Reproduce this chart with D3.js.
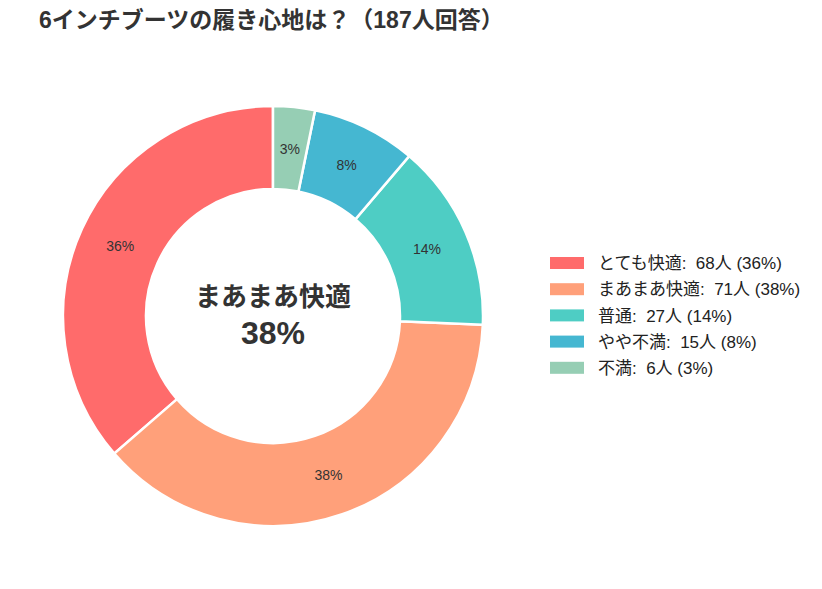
<!DOCTYPE html>
<html>
<head>
<meta charset="utf-8">
<script src="https://cdn.jsdelivr.net/npm/d3@7"></script>
<style>
  body { margin: 0; background: #fff; }
  svg text { font-family: "Liberation Sans", "Noto Sans CJK JP", sans-serif; }
</style>
</head>
<body>
<div class="holder"></div>
<script>
// data
var categories = ["とても快適", "まあまあ快適", "普通", "やや不満", "不満"];
var counts = [68, 71, 27, 15, 6];
var colors = ["#FF6B6B", "#FFA07A", "#4ECDC4", "#45B7D1", "#96CEB4"];
var titleText = "6インチブーツの履き心地は？（187人回答）";
var centerLabel = "まあまあ快適";
var centerPct = "38%";

var width = 822, height = 589;
var cx = 273, cy = 316;
var outerR = 210, innerR = 127;

var total = d3.sum(counts);
var data = categories.map(function(c, i) { return { name: c, value: counts[i], color: colors[i] }; });

var svg = d3.select(".holder").append("svg")
    .attr("width", width)
    .attr("height", height);

svg.append("text")
    .attr("x", 39)
    .attr("y", 28)
    .style("font-size", "23px")
    .style("font-weight", "bold")
    .style("fill", "#333")
    .text(titleText);

// counter-clockwise from 12 o'clock, like the original
var pie = d3.pie().sort(null).value(function(d) { return d.value; })
    .startAngle(0).endAngle(-2 * Math.PI);

var arc = d3.arc().innerRadius(innerR).outerRadius(outerR);
var labelArc = d3.arc().innerRadius(outerR * 0.8).outerRadius(outerR * 0.8);

var g = svg.append("g").attr("transform", "translate(" + cx + "," + cy + ")");

var slices = pie(data);

g.selectAll("path.slice")
    .data(slices)
    .enter().append("path")
    .attr("class", "slice")
    .attr("d", arc)
    .style("fill", function(d) { return d.data.color; })
    .style("stroke", "#fff")
    .style("stroke-width", 2.5);

g.selectAll("text.pct")
    .data(slices)
    .enter().append("text")
    .attr("class", "pct")
    .attr("transform", function(d) { return "translate(" + labelArc.centroid(d) + ")"; })
    .attr("text-anchor", "middle")
    .attr("dy", "0.35em")
    .style("font-size", "14px")
    .style("fill", "#333")
    .text(function(d) { return Math.round(d.data.value / total * 100) + "%"; });

g.append("text")
    .attr("text-anchor", "middle")
    .attr("y", -10)
    .style("font-size", "26px")
    .style("font-weight", "bold")
    .style("fill", "#333")
    .text(centerLabel);

g.append("text")
    .attr("text-anchor", "middle")
    .attr("y", 28)
    .style("font-size", "32px")
    .style("font-weight", "bold")
    .style("fill", "#333")
    .text(centerPct);

// legend
var legend = svg.append("g").attr("transform", "translate(550,263)");

var rows = legend.selectAll("g.row")
    .data(data)
    .enter().append("g")
    .attr("class", "row")
    .attr("transform", function(d, i) { return "translate(0," + (i * 26.2) + ")"; });

rows.append("rect")
    .attr("x", 0)
    .attr("y", -6)
    .attr("width", 34)
    .attr("height", 12)
    .style("fill", function(d) { return d.color; });

rows.append("text")
    .attr("x", 48)
    .attr("dy", "0.36em")
    .style("font-size", "17px")
    .style("fill", "#222")
    .style("white-space", "pre")
    .text(function(d) {
        return d.name + ":  " + d.value + "人 (" + Math.round(d.value / total * 100) + "%)";
    });
</script>
</body>
</html>
